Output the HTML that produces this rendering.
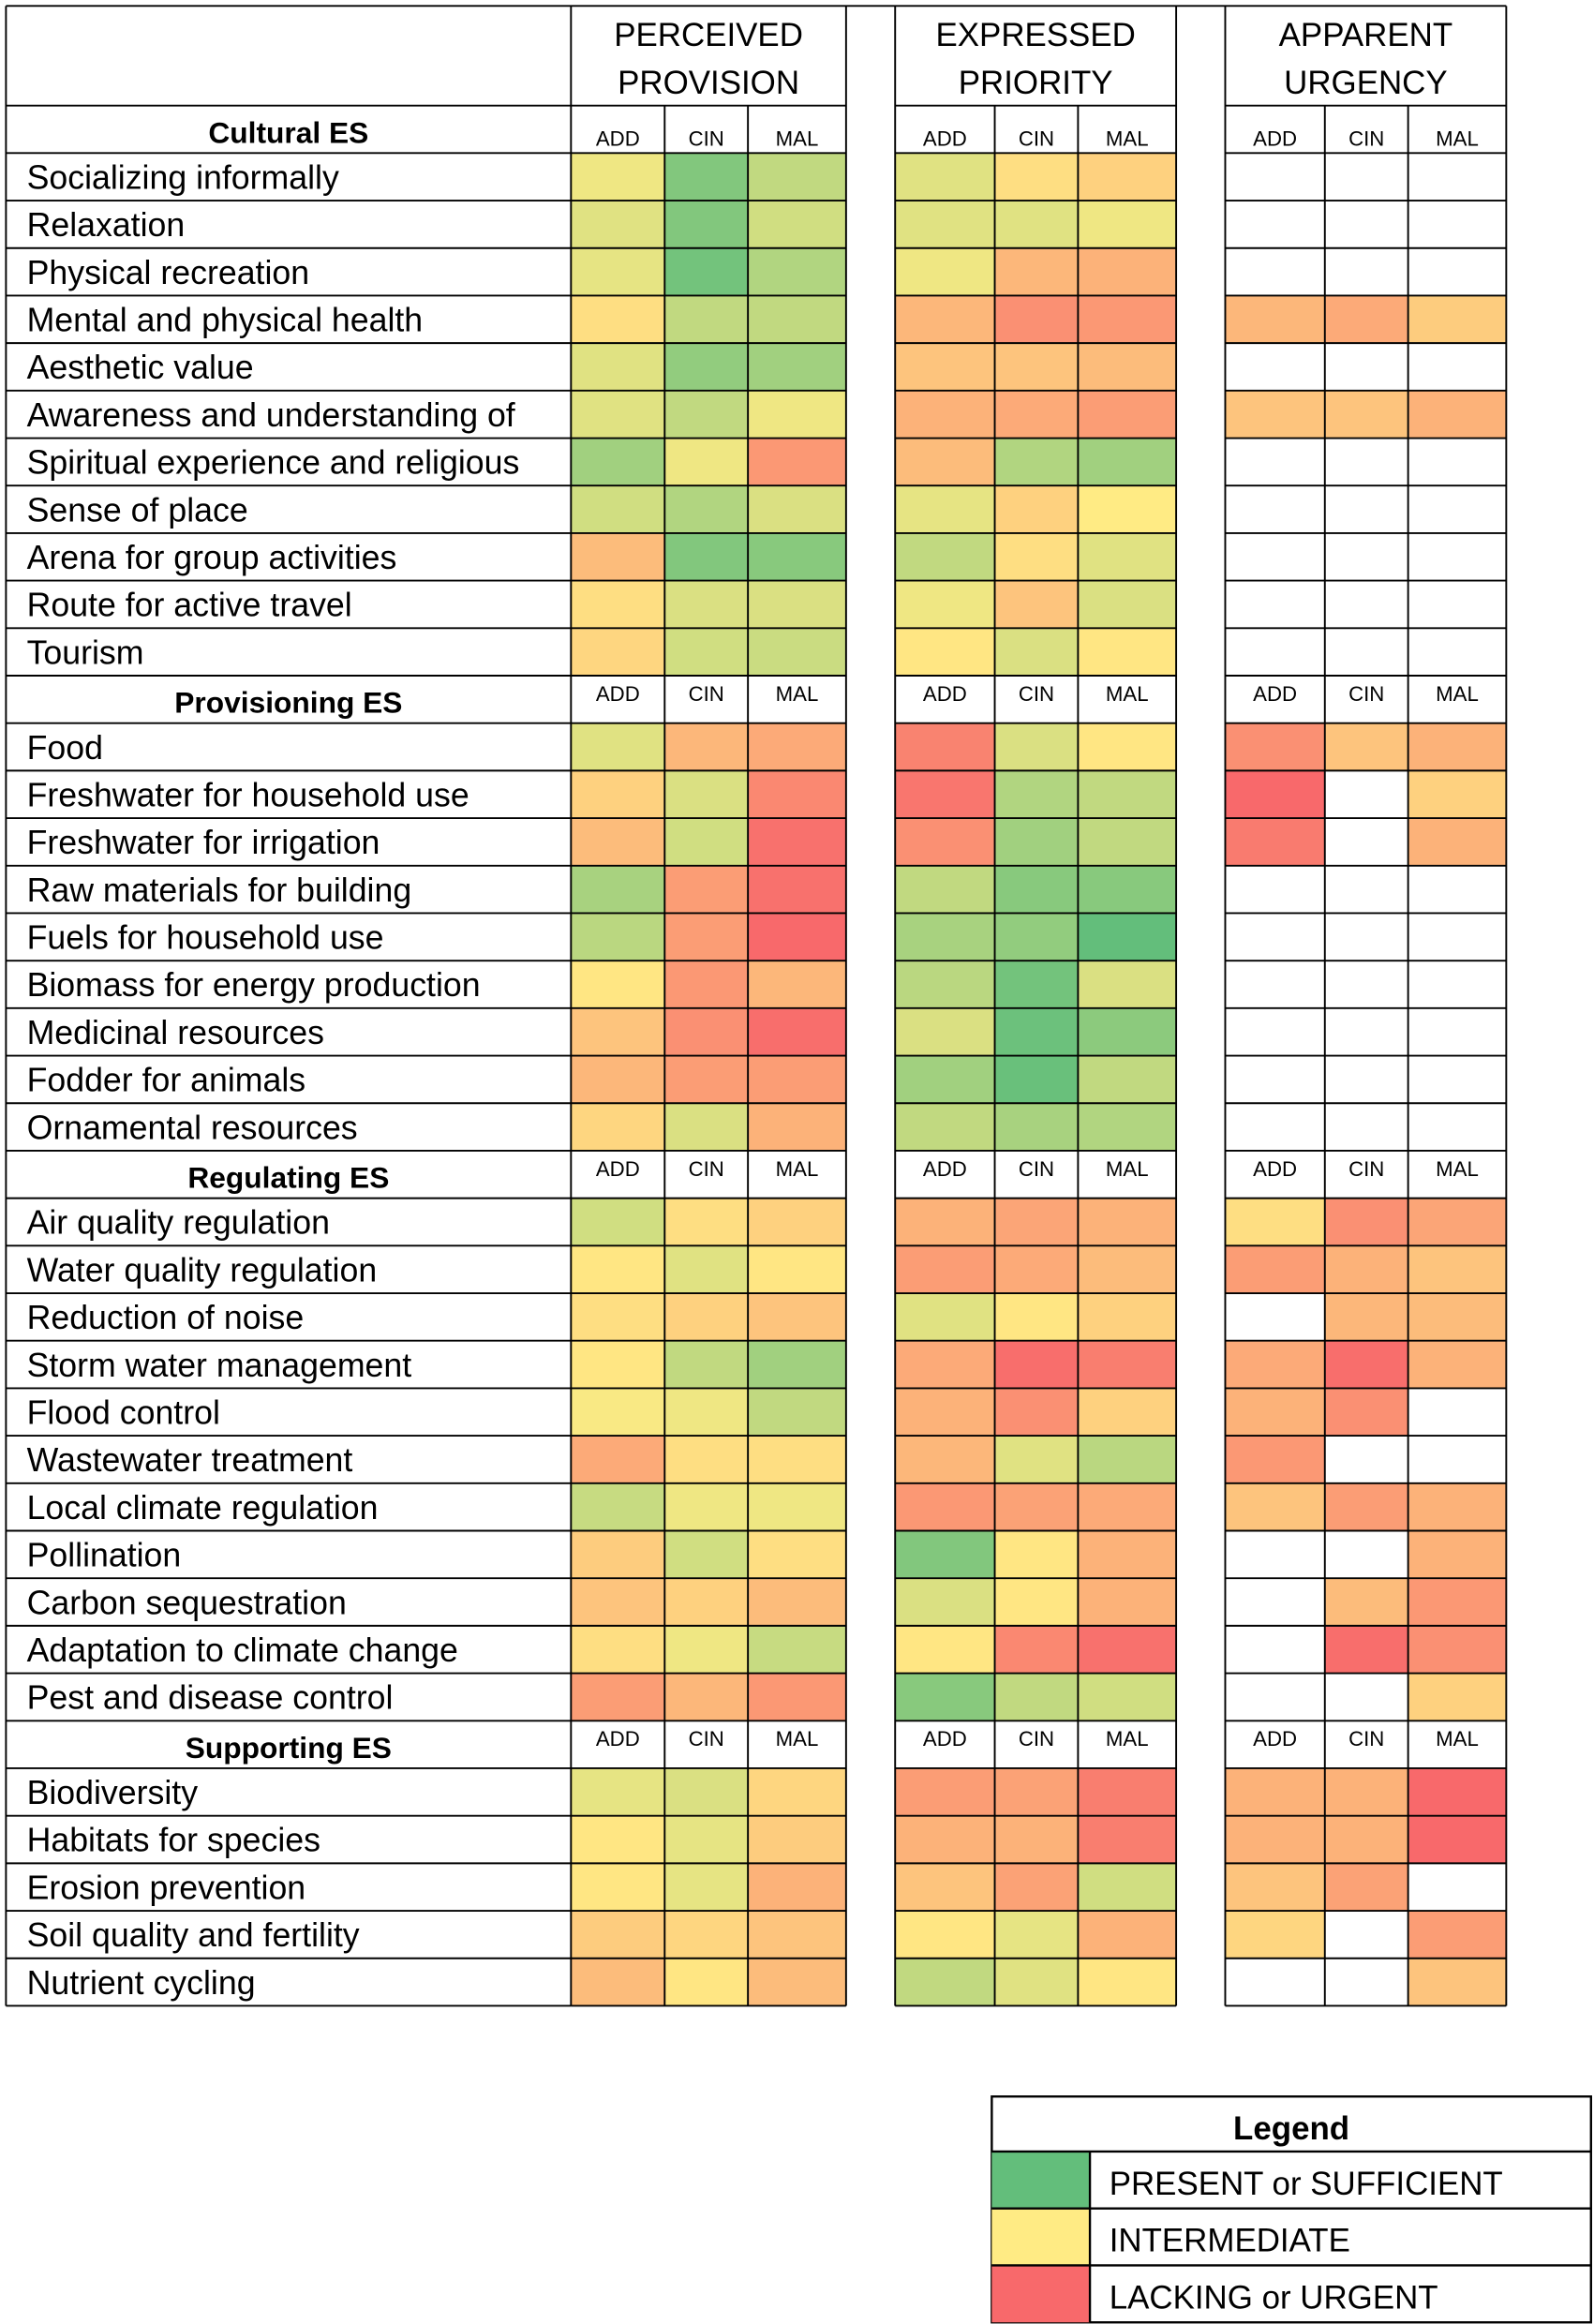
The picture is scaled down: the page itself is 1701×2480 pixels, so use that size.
<!DOCTYPE html>
<html><head><meta charset="utf-8"><style>
html,body{margin:0;padding:0;background:#fff;}
svg{display:block;}
text{font-family:"Liberation Sans",sans-serif;fill:#000;}
</style></head><body>
<svg id="chart" width="1701" height="2480" viewBox="0 0 1072 1563" xmlns="http://www.w3.org/2000/svg"></svg>
<script>
const groupTitles = [["PERCEIVED","PROVISION"],["EXPRESSED","PRIORITY"],["APPARENT","URGENCY"]];
const subCols = ["ADD","CIN","MAL"];
const sections = ["Cultural ES","Provisioning ES","Regulating ES","Supporting ES"];
const culturalRows = ["Socializing informally","Relaxation","Physical recreation","Mental and physical health","Aesthetic value","Awareness and understanding of","Spiritual experience and religious","Sense of place","Arena for group activities","Route for active travel","Tourism"];
const culturalVals = [
[0.45,0.1,0.3, 0.4,0.55,0.6, null,null,null],
[0.4,0.1,0.35, 0.4,0.4,0.45, null,null,null],
[0.42,0.05,0.25, 0.45,0.7,0.72, null,null,null],
[0.55,0.3,0.3, 0.7,0.85,0.82, 0.7,0.75,0.62],
[0.4,0.15,0.2, 0.65,0.65,0.68, null,null,null],
[0.4,0.3,0.45, 0.72,0.75,0.8, 0.65,0.65,0.72],
[0.2,0.45,0.82, 0.68,0.25,0.2, null,null,null],
[0.35,0.25,0.38, 0.42,0.6,0.5, null,null,null],
[0.68,0.1,0.12, 0.3,0.55,0.4, null,null,null],
[0.55,0.38,0.38, 0.45,0.65,0.38, null,null,null],
[0.58,0.35,0.33, 0.52,0.38,0.52, null,null,null]];
const provisioningRows = ["Food","Freshwater for household use","Freshwater for irrigation","Raw materials for building","Fuels for household use","Biomass for energy production","Medicinal resources","Fodder for animals","Ornamental resources"];
const provisioningVals = [
[0.4,0.7,0.75, 0.9,0.38,0.52, 0.85,0.65,0.72],
[0.6,0.38,0.88, 0.95,0.25,0.3, 1.0,null,0.6],
[0.68,0.35,0.97, 0.85,0.2,0.3, 0.93,null,0.72],
[0.22,0.8,0.97, 0.3,0.12,0.12, null,null,null],
[0.28,0.8,1.0, 0.22,0.15,0.0, null,null,null],
[0.52,0.82,0.7, 0.28,0.05,0.38, null,null,null],
[0.65,0.85,0.98, 0.38,0.03,0.13, null,null,null],
[0.7,0.8,0.8, 0.2,0.02,0.3, null,null,null],
[0.58,0.38,0.72, 0.3,0.22,0.25, null,null,null]];
const regulatingRows = ["Air quality regulation","Water quality regulation","Reduction of noise","Storm water management","Flood control","Wastewater treatment","Local climate regulation","Pollination","Carbon sequestration","Adaptation to climate change","Pest and disease control"];
const regulatingVals = [
[0.35,0.55,0.6, 0.72,0.77,0.72, 0.55,0.85,0.77],
[0.52,0.4,0.52, 0.8,0.75,0.68, 0.8,0.72,0.65],
[0.55,0.6,0.65, 0.4,0.52,0.6, null,0.7,0.68],
[0.52,0.3,0.2, 0.75,0.98,0.92, 0.75,0.98,0.72],
[0.48,0.45,0.3, 0.72,0.85,0.6, 0.72,0.85,null],
[0.75,0.55,0.55, 0.7,0.4,0.28, 0.82,null,null],
[0.32,0.45,0.45, 0.82,0.78,0.75, 0.65,0.8,0.72],
[0.62,0.35,0.55, 0.1,0.52,0.72, null,null,0.72],
[0.65,0.6,0.68, 0.38,0.52,0.72, null,0.68,0.82],
[0.55,0.45,0.32, 0.52,0.88,0.97, null,0.98,0.85],
[0.8,0.7,0.82, 0.12,0.3,0.35, null,null,0.6]];
const supportingRows = ["Biodiversity","Habitats for species","Erosion prevention","Soil quality and fertility","Nutrient cycling"];
const supportingVals = [
[0.42,0.38,0.58, 0.8,0.78,0.92, 0.72,0.72,1.0],
[0.52,0.42,0.62, 0.72,0.72,0.92, 0.72,0.72,1.0],
[0.52,0.42,0.72, 0.65,0.78,0.35, 0.65,0.78,null],
[0.62,0.58,0.65, 0.52,0.42,0.72, 0.58,null,0.8],
[0.68,0.52,0.68, 0.3,0.4,0.52, null,null,0.65]];
const legendLabels = ["PRESENT or SUFFICIENT","INTERMEDIATE","LACKING or URGENT"];
const legendVals = [0,0.5,1];

const NS="http://www.w3.org/2000/svg";
const svg=document.getElementById('chart');
function el(tag,attrs,parent){const e=document.createElementNS(NS,tag);for(const k in attrs)e.setAttribute(k,attrs[k]);(parent||svg).appendChild(e);return e;}
function lerp(a,b,t){return Math.round(a+(b-a)*t);}
function color(v){
  const g=[99,190,123],y=[255,235,132],r=[248,105,107];
  let c;
  if(v<=0.5){const t=v/0.5;c=[lerp(g[0],y[0],t),lerp(g[1],y[1],t),lerp(g[2],y[2],t)];}
  else{const t=(v-0.5)/0.5;c=[lerp(y[0],r[0],t),lerp(y[1],r[1],t),lerp(y[2],r[2],t)];}
  return `rgb(${c[0]},${c[1]},${c[2]})`;
}
const colX=[[384,447,503,569],[602,669,725,791],[824,891,947,1013]];
const left=4, labelRight=384;
const headerTop=4, headerBottom=71, rowH=(1349-71)/40;
function rowY(i){return headerBottom+i*rowH;}

const gCells=el('g',{});
const gText=el('g',{});
const gLines=el('g',{});

groupTitles.forEach((t,gi)=>{
  const cx=(colX[gi][0]+colX[gi][3])/2;
  t.forEach((line,li)=>{
    const tx=el('text',{x:cx,y:headerTop+27+li*32,'text-anchor':'middle','font-size':22},gText);
    tx.textContent=line;
    
    
  });
});

const sectionData=[[culturalRows,culturalVals],[provisioningRows,provisioningVals],[regulatingRows,regulatingVals],[supportingRows,supportingVals]];
let r=0;
sectionData.forEach(([rows,vals],si)=>{
  const y0=rowY(r);
  const st=el('text',{x:194,y:y0+25,'text-anchor':'middle','font-size':20,'font-weight':'bold'},gText);
  st.textContent=sections[si];
  
  
  colX.forEach(cx=>{
    for(let c=0;c<3;c++){
      const t=el('text',{x:(cx[c]+cx[c+1])/2,y:si===0?y0+27:y0+17,'text-anchor':'middle','font-size':14},gText);
      t.textContent=subCols[c];
      
      
    }
  });
  r++;
  rows.forEach((name,ri)=>{
    const y=rowY(r);
    const lt=el('text',{x:18,y:y+24,'font-size':22.5},gText);
    lt.textContent=name;
    
    
    vals[ri].forEach((v,k)=>{
      if(v===null)return;
      const gi=Math.floor(k/3),c=k%3;
      const rc=el('rect',{x:colX[gi][c],y:y,width:colX[gi][c+1]-colX[gi][c],height:rowH,fill:color(v)},gCells);
      
      
    });
    r++;
  });
});

const bottom=rowY(40);
const ls={stroke:'#000','stroke-width':1.2};
el('line',Object.assign({x1:left,y1:headerTop,x2:1013,y2:headerTop},ls),gLines);
for(let i=0;i<=40;i++){
  const y=rowY(i);
  el('line',Object.assign({x1:left,y1:y,x2:labelRight,y2:y},ls),gLines);
  colX.forEach(cx=>el('line',Object.assign({x1:cx[0],y1:y,x2:cx[3],y2:y},ls),gLines));
}
el('line',Object.assign({x1:left,y1:headerTop,x2:left,y2:bottom},ls),gLines);
colX.forEach(cx=>{
  el('line',Object.assign({x1:cx[0],y1:headerTop,x2:cx[0],y2:bottom},ls),gLines);
  el('line',Object.assign({x1:cx[3],y1:headerTop,x2:cx[3],y2:bottom},ls),gLines);
  for(let c=1;c<3;c++) el('line',Object.assign({x1:cx[c],y1:headerBottom,x2:cx[c],y2:bottom},ls),gLines);
});

const lg=el('g',{});


const LX=667,LR=1070,LT=1410,LTH=37,LRH=38.3;
el('rect',{x:LX,y:LT,width:LR-LX,height:LTH+3*LRH,fill:'#fff',stroke:'#000','stroke-width':1.5},lg);
const lt=el('text',{x:(LX+LR)/2,y:LT+29,'text-anchor':'middle','font-size':22,'font-weight':'bold'},lg);
lt.textContent='Legend';
legendLabels.forEach((lab,i)=>{
  const y=LT+LTH+i*LRH;
  const sw=el('rect',{x:LX,y:y,width:66,height:LRH,fill:color(legendVals[i])},lg);
  
  
  el('line',{x1:LX,y1:y,x2:LR,y2:y,stroke:'#000','stroke-width':1.5},lg);
  el('line',{x1:LX+66,y1:y,x2:LX+66,y2:y+LRH,stroke:'#000','stroke-width':1.5},lg);
  const t=el('text',{x:LX+79,y:y+29,'font-size':22},lg);
  t.textContent=lab;
  
  
});
</script>
</body></html>
